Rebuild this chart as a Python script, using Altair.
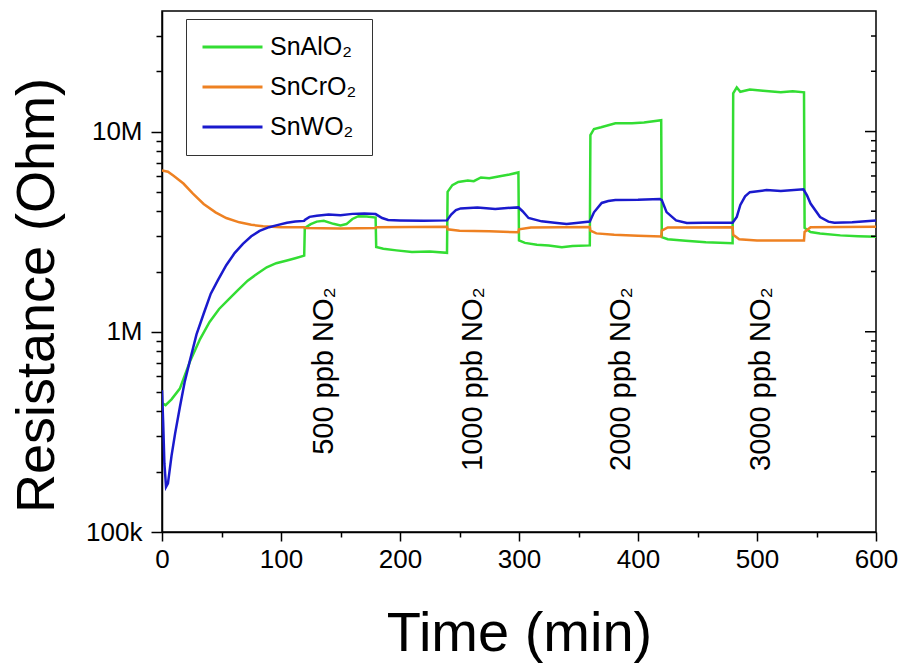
import altair as alt
import pandas as pd

# Sensor response of three SnO2-based films to NO2 pulses (log resistance vs time)
series_names = ["SnAlO₂", "SnCrO₂", "SnWO₂"]
series_colors = ["#33dd33", "#ee8122", "#1a1acd"]

# SnAlO2 (time in min, resistance in MOhm)
al_t = [0, 3, 8, 15, 23.5, 32, 40, 48, 56, 64, 72, 80, 88, 96, 105, 112, 119.5,
        120, 125, 130, 136, 144, 150, 155, 160, 165, 172, 179.5,
        180, 186, 197, 210, 225, 239.5,
        240, 244, 249, 257, 262, 268, 275, 285, 292, 299.5,
        300, 305, 315, 325, 336, 345, 359.5,
        360, 363, 369, 381, 395, 405, 419.5,
        420, 425, 440, 457, 479.5,
        480, 483, 486, 494, 505, 520, 530, 539.5,
        540, 545, 553, 570, 585, 600]
al_r = [0.44, 0.43, 0.46, 0.52, 0.71, 0.92, 1.12, 1.30, 1.45, 1.62, 1.80, 1.95, 2.10, 2.20, 2.27, 2.33, 2.40,
        3.30, 3.45, 3.55, 3.58, 3.46, 3.40, 3.45, 3.66, 3.78, 3.76, 3.72,
        2.65, 2.60, 2.55, 2.50, 2.52, 2.48,
        5.00, 5.40, 5.60, 5.70, 5.65, 5.90, 5.85, 6.00, 6.10, 6.25,
        2.86, 2.78, 2.72, 2.70, 2.64, 2.68, 2.70,
        9.60, 10.3, 10.5, 11.0, 11.0, 11.1, 11.4,
        2.97, 2.90, 2.85, 2.80, 2.77,
        15.5, 16.6, 15.8, 16.2, 16.0, 15.7, 15.9, 15.7,
        3.30, 3.15, 3.10, 3.03, 3.00, 2.98]

# SnCrO2
cr_t = [0, 5, 10, 18, 26, 35, 45, 54, 65, 75, 85, 100, 119.5,
        120, 150, 179.5, 180, 239.5,
        240, 250, 275, 299.5,
        300, 310, 359.5,
        360, 365, 380, 400, 419.5,
        420, 425, 479.5,
        480, 485, 500, 539.5,
        540, 545, 600]
cr_r = [6.40, 6.30, 6.00, 5.50, 4.90, 4.35, 3.95, 3.70, 3.52, 3.42, 3.37, 3.33, 3.33,
        3.30, 3.28, 3.30, 3.33, 3.35,
        3.25, 3.20, 3.18, 3.14,
        3.25, 3.32, 3.34,
        3.20, 3.10, 3.05, 3.02, 2.99,
        3.20, 3.32, 3.33,
        3.05, 2.90, 2.86, 2.86,
        3.15, 3.33, 3.35]

# SnWO2
w_t = [0, 1, 2, 3.4, 5, 8, 11, 15, 19, 23.5, 29, 35, 41, 47, 54, 61, 68, 75, 82, 90, 96, 105, 112, 119.5,
       120, 124, 130, 140, 150, 160, 170, 179.5, 185, 190, 200, 220, 239.5,
       243, 247, 251, 265, 280, 290, 299.5, 303, 308, 319, 330, 340, 350, 359.5,
       363, 369.5, 375, 381, 400, 418.5, 420, 424, 432, 441, 455, 479.5,
       483, 486, 490, 494, 508, 520, 539, 542, 545, 553, 560, 565, 580, 600]
w_r = [0.51, 0.35, 0.22, 0.168, 0.175, 0.24, 0.31, 0.42, 0.56, 0.72, 0.97, 1.23, 1.55, 1.81, 2.15, 2.47, 2.75, 3.00, 3.19, 3.33, 3.40, 3.50, 3.55, 3.58,
       3.62, 3.75, 3.80, 3.85, 3.82, 3.88, 3.90, 3.87, 3.70, 3.62, 3.60, 3.58, 3.60,
       3.85, 4.05, 4.13, 4.18, 4.10, 4.15, 4.18, 4.00, 3.70, 3.56, 3.50, 3.45, 3.50, 3.55,
       3.95, 4.40, 4.50, 4.55, 4.56, 4.60, 4.55, 3.96, 3.60, 3.49, 3.50, 3.50,
       3.75, 4.30, 4.75, 4.98, 5.10, 5.05, 5.15, 4.80, 4.37, 3.74, 3.55, 3.50, 3.52, 3.60]

# Gas pulse labels
pulse_labels = ["500 ppb NO₂", "1000 ppb NO₂", "2000 ppb NO₂", "3000 ppb NO₂"]
pulse_t = [136, 261, 386, 503]
pulse_top = 1.67e6

# Axis tick values
x_ticks = list(range(0, 601, 50))
y_ticks = [m * 10 ** e for e in (5, 6) for m in range(1, 10)] + [1e7, 2e7, 3e7]
y_major = [1e5, 1e6, 1e7]

rows = []
for name, ts, rs in zip(series_names, [al_t, cr_t, w_t], [al_r, cr_r, w_r]):
    for i, (t, r) in enumerate(zip(ts, rs)):
        rows.append({"series": name, "t": t, "R": r * 1e6, "idx": i})
df = pd.DataFrame(rows)

labels_df = pd.DataFrame({"t": pulse_t, "R": [pulse_top] * len(pulse_t), "label": pulse_labels})
right_minor = pd.DataFrame({"R": [v for v in y_ticks if v not in y_major]})
right_major = pd.DataFrame({"R": [1e6, 1e7]})

W, H = 714, 521
FONT = "Liberation Sans"

x_scale = alt.Scale(domain=[0, 600], nice=False, zero=False)
y_scale = alt.Scale(type="log", domain=[1e5, 4e7], nice=False)

major_test = "datum.value == 100000 || datum.value == 1000000 || datum.value == 10000000"

x_axis = alt.Axis(
    values=x_ticks,
    labelExpr="datum.value % 100 === 0 ? datum.label : ''",
    tickSize={"condition": {"test": "datum.value % 100 !== 0", "value": 5}, "value": 9},
    labelFontSize=26, labelPadding=5, labelFlush=False, labelOverlap=False,
    title="Time (min)", titleFontSize=56, titleFontWeight="normal",
    titleY=101, titleBaseline="middle",
    grid=False, domainColor="black", tickColor="black",
    domainWidth=1.5, tickWidth=1.5, labelColor="black", titleColor="black",
)
y_axis = alt.Axis(
    values=y_ticks,
    labelExpr="datum.value == 100000 ? '100k' : datum.value == 1000000 ? '1M' : datum.value == 10000000 ? '10M' : ''",
    tickSize={"condition": {"test": major_test, "value": 11}, "value": 6},
    labelFontSize=26, labelPadding=9, labelOverlap=False, labelFlush=False,
    title="Resistance (Ohm)", titleFontSize=54, titleFontWeight="normal",
    titleAngle=270, titleX=-125, titleY=284, titleAlign="center", titleBaseline="middle",
    grid=False, domainColor="black", tickColor="black",
    domainWidth=1.5, tickWidth=1.5, labelColor="black", titleColor="black",
)

lines = alt.Chart(df).mark_line(strokeWidth=2.5, clip=True).encode(
    x=alt.X("t:Q", scale=x_scale, axis=x_axis),
    y=alt.Y("R:Q", scale=y_scale, axis=y_axis),
    color=alt.Color(
        "series:N",
        scale=alt.Scale(domain=series_names, range=series_colors),
        legend=alt.Legend(
            title=None, orient="none", legendX=24, legendY=8,
            symbolType="stroke", symbolSize=3600, symbolStrokeWidth=3,
            clipHeight=26, rowPadding=14,
            labelFontSize=25, labelFont=FONT, labelColor="black", labelOffset=6,
            padding=15, strokeColor="#333", fillColor="white",
            labelLimit=0,
        ),
    ),
    order="idx:Q",
    detail="series:N",
)

pulse_text = alt.Chart(labels_df).mark_text(
    angle=270, align="right", baseline="middle", fontSize=29, font=FONT, color="black"
).encode(
    x=alt.X("t:Q", scale=x_scale),
    y=alt.Y("R:Q", scale=y_scale),
    text="label:N",
)

# inward ticks along the right frame
right_minor_ticks = alt.Chart(right_minor).mark_rule(color="black", strokeWidth=1.5).encode(
    y=alt.Y("R:Q", scale=y_scale), x=alt.value(W - 5), x2=alt.value(W)
)
right_major_ticks = alt.Chart(right_major).mark_rule(color="black", strokeWidth=1.5).encode(
    y=alt.Y("R:Q", scale=y_scale), x=alt.value(W - 11), x2=alt.value(W)
)

chart = alt.layer(lines, pulse_text, right_minor_ticks, right_major_ticks).properties(
    width=W, height=H,
    autosize=alt.AutoSizeParams(type="none"),
    padding={"left": 162, "top": 11, "right": 23, "bottom": 138},
).configure(
    font=FONT,
).configure_view(
    stroke="black", strokeWidth=1.5,
).configure_axis(
    labelFont=FONT, titleFont=FONT,
)

chart.save("out.html", embed_options={"renderer": "svg", "actions": False})
